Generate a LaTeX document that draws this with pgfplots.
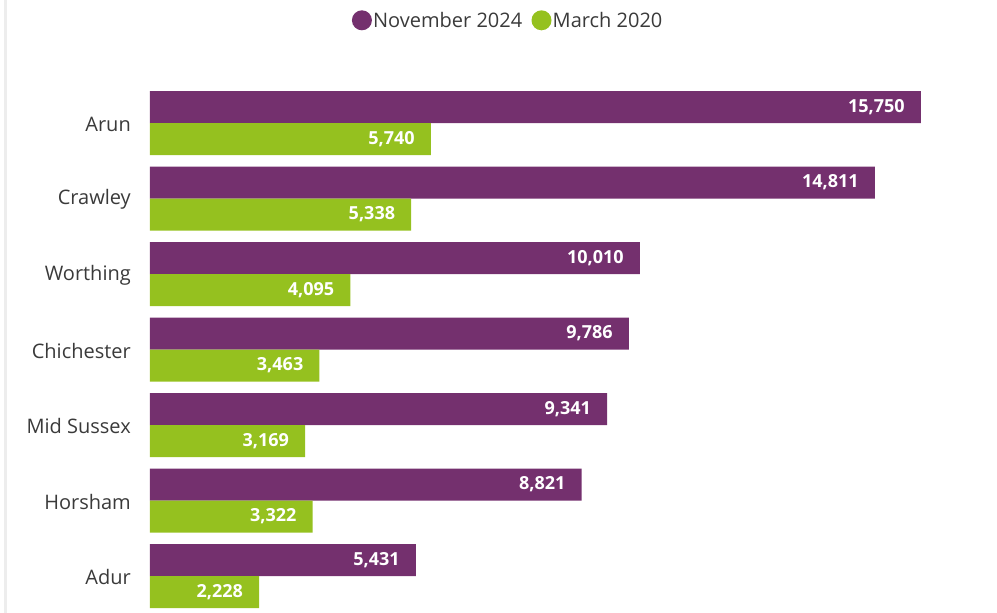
\documentclass[border=0pt]{standalone}
\usepackage{fontspec}
\setmainfont{Open Sans}
\usepackage{pgfplots}
\usepackage{pgfplotstable}
\pgfplotsset{compat=1.18}
\definecolor{nov}{HTML}{74306E}
\definecolor{mar}{HTML}{95C11F}
\definecolor{lbl}{HTML}{3A3A3A}

% rows top to bottom: Arun, Crawley, Worthing, Chichester, Mid Sussex, Horsham, Adur
\pgfplotstableread{
idx nov mar
0 15750 5740
1 14811 5338
2 10010 4095
3 9786 3463
4 9341 3169
5 8821 3322
6 5431 2228
}\districts

\begin{document}
\begin{tikzpicture}[x=1pt,y=1pt]
\useasboundingbox (0,0) rectangle (997,613);
\fill[black!7] (4,0) rectangle (6.5,613);
\begin{axis}[
    at={(150pt,0pt)}, anchor=south west,
    scale only axis,
    width=832pt, height=533pt,
    xmin=0, xmax=17000,
    ymin=-0.57, ymax=6.49,
    y dir=reverse,
    xbar, bar width=32pt,
    axis line style={draw=none},
    major tick length=0pt,
    xtick=\empty,
    ytick={0,...,6},
    yticklabels={Arun,Crawley,Worthing,Chichester,Mid Sussex,Horsham,Adur},
    yticklabel style={font=\fontsize{20}{24}\selectfont, text=lbl, anchor=east, inner sep=0pt, xshift=-19pt, yshift=-1pt},
    nodes near coords,
    nodes near coords style={font=\fontsize{18}{21}\selectfont\bfseries, text=white, anchor=east, inner sep=0pt, xshift=-16pt,
        /pgf/number format/.cd, fixed, 1000 sep={,}, assume math mode=true},
    legend columns=2,
    legend style={at={(0.43,1.112)}, anchor=center, draw=none, fill=none,
        font=\fontsize{20}{24}\selectfont, text=lbl, inner sep=0pt,
        /tikz/every even column/.append style={column sep=8pt},
        nodes={inner sep=1.2pt}},
    legend image code/.code={\fill[#1,draw=none] (0pt,0pt) circle (10pt);},
]
\addplot[fill=nov, draw=none, bar shift=0pt] table[x=nov, y expr=\thisrow{idx}-0.212] {\districts};
\addlegendentry{November 2024}
\addplot[fill=mar, draw=none, bar shift=0pt] table[x=mar, y expr=\thisrow{idx}+0.212] {\districts};
\addlegendentry{March 2020}
\end{axis}
\end{tikzpicture}
\end{document}
